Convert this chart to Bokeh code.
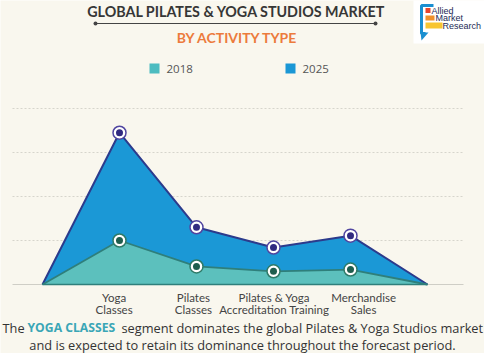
from bokeh.plotting import figure
from bokeh.models import Range1d, Label
from bokeh.core.properties import value
from bokeh.embed import file_html
from bokeh.resources import INLINE

# ---- data ----
cat_line1 = ["Yoga", "Pilates", "Pilates & Yoga", "Merchandise"]
cat_line2 = ["Classes", "Classes", "Accreditation Training", "Sales"]
values_2018 = [1.00, 0.41, 0.30, 0.34]
values_2025 = [3.45, 1.30, 0.84, 1.11]
grid_levels = [0, 1, 2, 3, 4]
series_names = ["2018", "2025"]

# ---- layout helpers (pixel -> data) ----
W, H = 484, 353
X0, DX = 42, 77      # pixel x of index 0, px per index
Y0, DY = 284, 44     # pixel y (from top) of value 0, px per unit


def X(px):
    return (px - X0) / DX


def Y(py):
    return (Y0 - py) / DY


BG = "#f9f7ee"
C18, C18_LINE, C18_DOT = "#5cc0bd", "#2f7f7b", "#1f5e4e"
C25, C25_LINE, C25_DOT = "#1b98d6", "#2c3b8c", "#312a80"

p = figure(width=W, height=H, output_backend="svg", toolbar_location=None,
           x_range=Range1d(X(0), X(W)), y_range=Range1d(Y(H), Y(0)),
           x_axis_location=None, y_axis_location=None, min_border=0)
p.grid.visible = False
p.outline_line_color = None
p.background_fill_color = BG
p.border_fill_color = BG

# grid lines
for g in grid_levels[1:]:
    p.line([X(12), X(463)], [g, g], line_color="#d6d5cc", line_dash="2 2", line_width=1)
p.line([X(12), X(463)], [0, 0], line_color="#cfcec6", line_width=1)

n = len(values_2018)
xs = list(range(0, n + 2))
y25 = [0] + values_2025 + [0]
y18 = [0] + values_2018 + [0]
xc = list(range(1, n + 1))

p.varea(x=xs, y1=[0] * len(xs), y2=y25, fill_color=C25)
p.line(xs, y25, line_color=C25_LINE, line_width=2)
p.varea(x=xs, y1=[0] * len(xs), y2=y18, fill_color=C18)
p.line(xs, y18, line_color=C18_LINE, line_width=1.8)
p.line([0, n + 1], [0, 0], line_color=C18_LINE, line_width=1.5)

p.scatter(xc, values_2025, size=13, fill_color="white", line_color="#5045a0", line_width=1.5)
p.scatter(xc, values_2025, size=7, fill_color=C25_DOT, line_color=None)
p.scatter(xc, values_2018, size=13, fill_color="white", line_color="#2f7a68", line_width=1.5)
p.scatter(xc, values_2018, size=7, fill_color=C18_DOT, line_color=None)

# category labels (small horizontal offsets as in the original artwork)
label_offsets = [-0.07, -0.04, 0.01, 0.17]
label_x = [c + o for c, o in zip(xc, label_offsets)]
p.text(x=label_x, y=[Y(297)] * n, text=cat_line1, text_align="center", text_baseline="middle",
       text_font=value("Lato"), text_font_size="11.5px", text_color="#444444")
p.text(x=label_x, y=[Y(309)] * n, text=cat_line2, text_align="center", text_baseline="middle",
       text_font=value("Lato"), text_font_size="11.5px", text_color="#444444")

# title
p.add_layout(Label(x=X(236), y=Y(11), text="GLOBAL PILATES & YOGA STUDIOS MARKET",
                   text_align="center", text_baseline="middle", text_font="Lato",
                   text_font_style="bold", text_font_size="14.3px", text_color="#363636"))
p.line([X(95), X(375)], [Y(23), Y(23)], line_color="#444444", line_width=1.2)
p.scatter([X(95), X(375)], [Y(23), Y(23)], size=4, fill_color="#444444", line_color=None)
p.add_layout(Label(x=X(237), y=Y(37), text="BY ACTIVITY TYPE",
                   text_align="center", text_baseline="middle", text_font="Lato",
                   text_font_style="bold", text_font_size="14px", text_color="#ec7b3c"))

# legend
for sx, tx, col, name in [(154, 166, "#4dbcc0", series_names[0]), (290, 302, "#1b97d5", series_names[1])]:
    p.rect(x=[X(sx)], y=[Y(68)], width=10, height=10, width_units="screen",
           height_units="screen", fill_color=col, line_color=None)
    p.add_layout(Label(x=X(tx), y=Y(68), text=name, text_align="left", text_baseline="middle",
                       text_font="Open Sans", text_font_size="11.5px", text_color="#555555"))

# logo
p.rect(x=[X(449)], y=[Y(21)], width=72, height=44, width_units="screen", height_units="screen",
       fill_color="white", line_color=None)
p.line([X(433), X(421), X(421), X(425)], [Y(5), Y(5), Y(33), Y(33)], line_color="#1a8fd0", line_width=3)
p.patch([X(420), X(428), X(421)], [Y(32), Y(32), Y(40)], fill_color="#1a8fd0", line_color=None)
p.rect(x=[X(427.5)], y=[Y(10)], width=5, height=5, width_units="screen", height_units="screen",
       fill_color="#e8452c", line_color=None)
p.rect(x=[X(429.5)], y=[Y(17.5)], width=9, height=5, width_units="screen", height_units="screen",
       fill_color="#f0902a", line_color=None)
p.rect(x=[X(433.5)], y=[Y(25)], width=17, height=6, width_units="screen", height_units="screen",
       fill_color="#f7c531", line_color=None)
for txt, lx, ly in [("Allied", 431, 10), ("Market", 435, 17.5), ("Research", 442, 25.5)]:
    p.add_layout(Label(x=X(lx), y=Y(ly), text=txt, text_align="left", text_baseline="middle",
                       text_font="Liberation Sans", text_font_size="9px", text_color="#1d2a55"))

# bottom text
FS = "12.8px"
p.add_layout(Label(x=X(2), y=Y(327), text="The", text_align="left", text_baseline="middle",
                   text_font="Open Sans", text_font_size=FS, text_color="#333333"))
p.add_layout(Label(x=X(27), y=Y(327), text="YOGA CLASSES", text_align="left", text_baseline="middle",
                   text_font="Open Sans", text_font_style="bold", text_font_size="12.2px",
                   text_color="#3aa6b6"))
p.add_layout(Label(x=X(121), y=Y(327), text="segment dominates the global Pilates & Yoga Studios market",
                   text_align="left", text_baseline="middle",
                   text_font="Open Sans", text_font_size=FS, text_color="#333333"))
p.add_layout(Label(x=X(242), y=Y(344), text="and is expected to retain its dominance throughout the forecast period.",
                   text_align="center", text_baseline="middle", text_font="Open Sans",
                   text_font_size=FS, text_color="#333333"))

open("out.html", "w").write(file_html(p, INLINE))
